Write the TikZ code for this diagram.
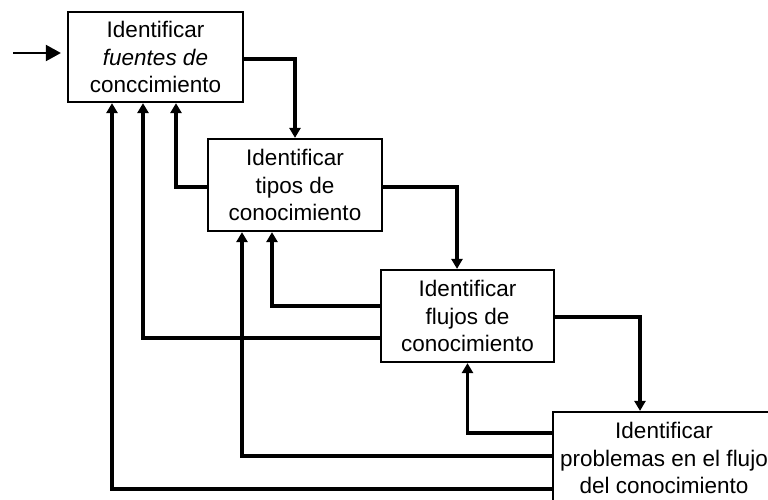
\documentclass[tikz,border=0pt]{standalone}
\usepackage{fontspec}
\setmainfont{Liberation Sans}
\usetikzlibrary{arrows.meta}
\begin{document}
\begin{tikzpicture}[x=1pt,y=-1pt,
  stepbox/.style={draw, line width=2.2pt, fill=white, inner sep=0pt, align=center,
    font=\fontsize{22.5}{27.5}\selectfont},
  flow/.style={line width=3.3pt, -{Triangle[width=11pt,length=10pt]}},
  entry/.style={line width=2pt, -{Triangle[width=16pt,length=15pt]}}]
\clip (0,0) rectangle (768,499);
\fill[white] (0,0) rectangle (768,499);

% process steps
\node[stepbox, minimum width=175pt, minimum height=90pt] (b1) at (155.5,57)
  {Identificar\\ \textit{fuentes de}\\ conccimiento};
\node[stepbox, minimum width=174pt, minimum height=92pt] (b2) at (295,185)
  {Identificar\\ tipos de\\ conocimiento};
\node[stepbox, minimum width=173pt, minimum height=92pt] (b3) at (467.5,316)
  {Identificar\\ flujos de\\ conocimiento};
\node[stepbox, minimum width=222pt, minimum height=92pt] (b4) at (664,458)
  {Identificar\\ problemas en el flujo\\ del conocimiento};

% entry arrow
\coordinate (in) at (13,53);
\draw[entry, shorten >=6pt] (in) -- (in -| b1.west);

% forward flow
\draw[flow] ([yshift=-2pt]b1.east) -| (b2.north);
\draw[flow] ([yshift=-2pt]b2.east) -| ([xshift=-10.5pt]b3.north);
\draw[flow] ([yshift=-1pt]b3.east) -| ([xshift=-24pt]b4.north);

% feedback to earlier steps
\draw[flow] ([yshift=-2pt]b2.west) -| ([xshift=20.5pt]b1.south);
\draw[flow] ([yshift=10pt]b3.west) -| ([xshift=-23pt]b2.south);
\draw[flow] ([yshift=-22pt]b3.west) -| ([xshift=-12.5pt]b1.south);
\draw[flow] ([yshift=25pt]b4.west) -| (b3.south);
\draw[flow] ([yshift=2pt]b4.west) -| ([xshift=-53pt]b2.south);
\draw[flow] ([yshift=-31pt]b4.west) -| ([xshift=-43.5pt]b1.south);
\end{tikzpicture}
\end{document}
